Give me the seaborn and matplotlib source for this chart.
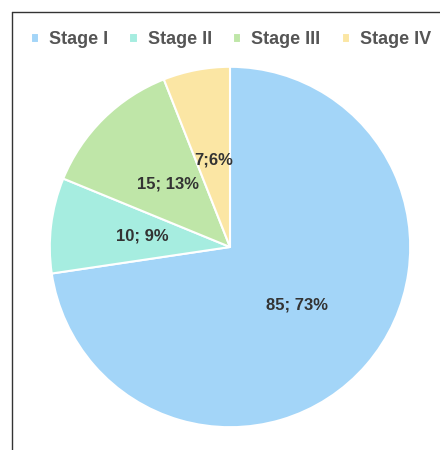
import numpy as np
import matplotlib.pyplot as plt
import seaborn as sns
from matplotlib.lines import Line2D

stages = ['Stage I', 'Stage II', 'Stage III', 'Stage IV']
counts = [85, 10, 15, 7]
pcts = ['73%', '9%', '13%', '6%']
colors = ['#a3d5f8', '#a6ede0', '#bfe6a8', '#fbe6a4']

sns.set_theme(style='white')
plt.rcParams['font.family'] = ['Liberation Sans', 'DejaVu Sans']

fig = plt.figure(figsize=(4.4, 4.5), dpi=100)
ax = fig.add_axes([48 / 440, (450 - 247 - 182) / 450, 364 / 440, 364 / 450])

wedges, _ = ax.pie(counts, colors=colors, startangle=90, counterclock=False,
                   wedgeprops={'edgecolor': 'white', 'linewidth': 1.5})
ax.set_xlim(-1.01, 1.01)
ax.set_ylim(-1.01, 1.01)

# labels "n; p%"
labs = [f'{c}; {p}' for c, p in zip(counts, pcts)]
labs[3] = labs[3].replace('; ', ';')
for w, t in zip(wedges, labs):
    ang = np.deg2rad((w.theta1 + w.theta2) / 2)
    r = 0.49
    ax.text(r * np.cos(ang), r * np.sin(ang), t, ha='center', va='center',
            fontsize=12, fontweight='bold', color='#333333')

ax.legend(wedges, stages, loc='center', bbox_to_anchor=(0.525, 1 - 40 / 450),
          bbox_transform=fig.transFigure, ncol=4, frameon=False,
          handlelength=0.45, handleheight=0.45, handletextpad=0.55, columnspacing=1.2,
          prop={'size': 13, 'weight': 'bold'}, labelcolor='#555555')

# frame lines (left and top only)
fig.add_artist(Line2D([11.5 / 440, 11.5 / 440], [0, 1 - 11.5 / 450], color='#333333', lw=1))
fig.add_artist(Line2D([11.5 / 440, 1], [1 - 11.5 / 450, 1 - 11.5 / 450], color='#333333', lw=1))

fig.savefig('out.png', dpi=100, facecolor='white')
